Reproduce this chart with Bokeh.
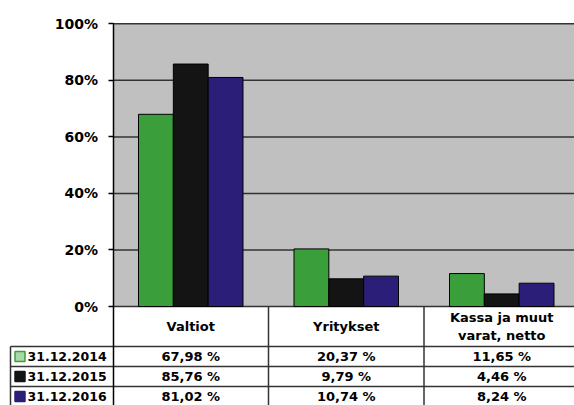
import numpy as np
from bokeh.plotting import figure
from bokeh.models import Range1d, FixedTicker, PrintfTickFormatter, LinearAxis
from bokeh.core.properties import value
from bokeh.embed import file_html
from bokeh.resources import INLINE

# ---------------- data ----------------
categories = ["Valtiot", "Yritykset", "Kassa ja muut\nvarat, netto"]
series = ["31.12.2014", "31.12.2015", "31.12.2016"]
v2014 = [67.98, 20.37, 11.65]
v2015 = [85.76, 9.79, 4.46]
v2016 = [81.02, 10.74, 8.24]
y_ticks = [0, 20, 40, 60, 80, 100]

# ---------------- style / layout (pixels) ----------------
colors = ["#3a9e3a", "#141414", "#2a1e78"]
key_fill = ["#a8d8a8", "#141414", "#2a1e78"]
FONT = value("DejaVu Sans")
W, H = 574, 405
AXIS_X = 112.5      # x of value axis
TABLE_LEFT = 10     # x of table left border
CAT_W = 155.5
TOP = 23.3          # y of 100 %
ZERO = 306          # y of 0 %
HEADER_H = 40
ROW_H = 20
BAR_W = 0.224
GRID_COL = "#333333"
TABLE_COL = "#333333"

PX = (ZERO - TOP) / 100.0          # pixels per percent
n = len(categories)
centers = np.arange(n) + 0.5


def dx(px):  # page x -> data x
    return (px - AXIS_X) / CAT_W


def dy(py):  # page y -> data y (percent)
    return (ZERO - py) / PX


x0, x1 = dx(0), dx(W)
y_bot, y_top = dy(H), dy(0)

p = figure(width=W, height=H, x_range=Range1d(x0, x1), y_range=Range1d(y_bot, y_top),
           x_axis_type=None, y_axis_type=None, toolbar_location=None,
           output_backend="svg", min_border=0)
p.outline_line_color = None
p.background_fill_color = "white"
p.border_fill_color = "white"

# plot area background and gridlines
bg = p.quad(left=[0], right=[n], bottom=[y_ticks[0]], top=[y_ticks[-1]],
            fill_color="#c0c0c0", line_color=None)
p.segment(x0=[0] * len(y_ticks), y0=y_ticks, x1=[n] * len(y_ticks), y1=y_ticks,
          line_color=GRID_COL, line_width=1.5)

# value axis drawn at x = 0 inside the canvas
ax = LinearAxis(fixed_location=0, ticker=FixedTicker(ticks=y_ticks),
                formatter=PrintfTickFormatter(format="%d%%"))
ax.bounds = (y_bot, y_ticks[-1])
ax.axis_line_color = "black"
ax.axis_line_width = 1.5
ax.major_tick_line_color = "black"
ax.major_tick_line_width = 1.5
ax.major_tick_out = 5
ax.major_tick_in = 0
ax.minor_tick_line_color = None
ax.major_label_standoff = 10
ax.major_label_text_font = "DejaVu Sans"
ax.major_label_text_font_style = "bold"
ax.major_label_text_font_size = "14px"
ax.major_label_text_color = "black"
p.add_layout(ax, "left")

# bars
for i, vals in enumerate([v2014, v2015, v2016]):
    p.vbar(x=centers + (i - 1) * BAR_W, top=vals, bottom=0, width=BAR_W,
           fill_color=colors[i], line_color="black", line_width=1)

# ---------------- data table ----------------
bounds = np.arange(1, n)
p.segment(x0=bounds, y0=[0] * len(bounds), x1=bounds, y1=[y_bot] * len(bounds),
          line_color=TABLE_COL, line_width=1.5)
row_tops = [dy(ZERO + HEADER_H + ROW_H * k) for k in range(len(series))]
tl = dx(TABLE_LEFT)
p.segment(x0=[tl] * len(row_tops), y0=row_tops, x1=[n] * len(row_tops), y1=row_tops,
          line_color=TABLE_COL, line_width=1.5)
p.segment(x0=[tl], y0=[row_tops[0]], x1=[tl], y1=[y_bot],
          line_color=TABLE_COL, line_width=1.5)

p.text(x=centers, y=[dy(ZERO + HEADER_H / 2)] * n, text=categories,
       text_font=FONT, text_font_style="bold", text_font_size="13px",
       text_align="center", text_baseline="middle", text_color="black",
       text_line_height=1.25)

row_y = [dy(ZERO + HEADER_H + ROW_H * (k + 0.5)) for k in range(len(series))]
p.scatter(x=[dx(19.5)] * len(series), y=row_y, marker="square", size=10,
          fill_color=key_fill, line_color=colors, line_width=1.5)
p.text(x=[dx(27)] * len(series), y=row_y, text=series,
       text_font=FONT, text_font_style="bold", text_font_size="12.5px",
       text_align="left", text_baseline="middle", text_color="black")

for k, vals in enumerate([v2014, v2015, v2016]):
    labels = [f"{v:.2f}".replace(".", ",") + " %" for v in vals]
    p.text(x=centers, y=[row_y[k]] * n, text=labels,
           text_font=FONT, text_font_style="bold", text_font_size="13px",
           text_align="center", text_baseline="middle", text_color="black")

open("out.html", "w").write(file_html(p, INLINE))
